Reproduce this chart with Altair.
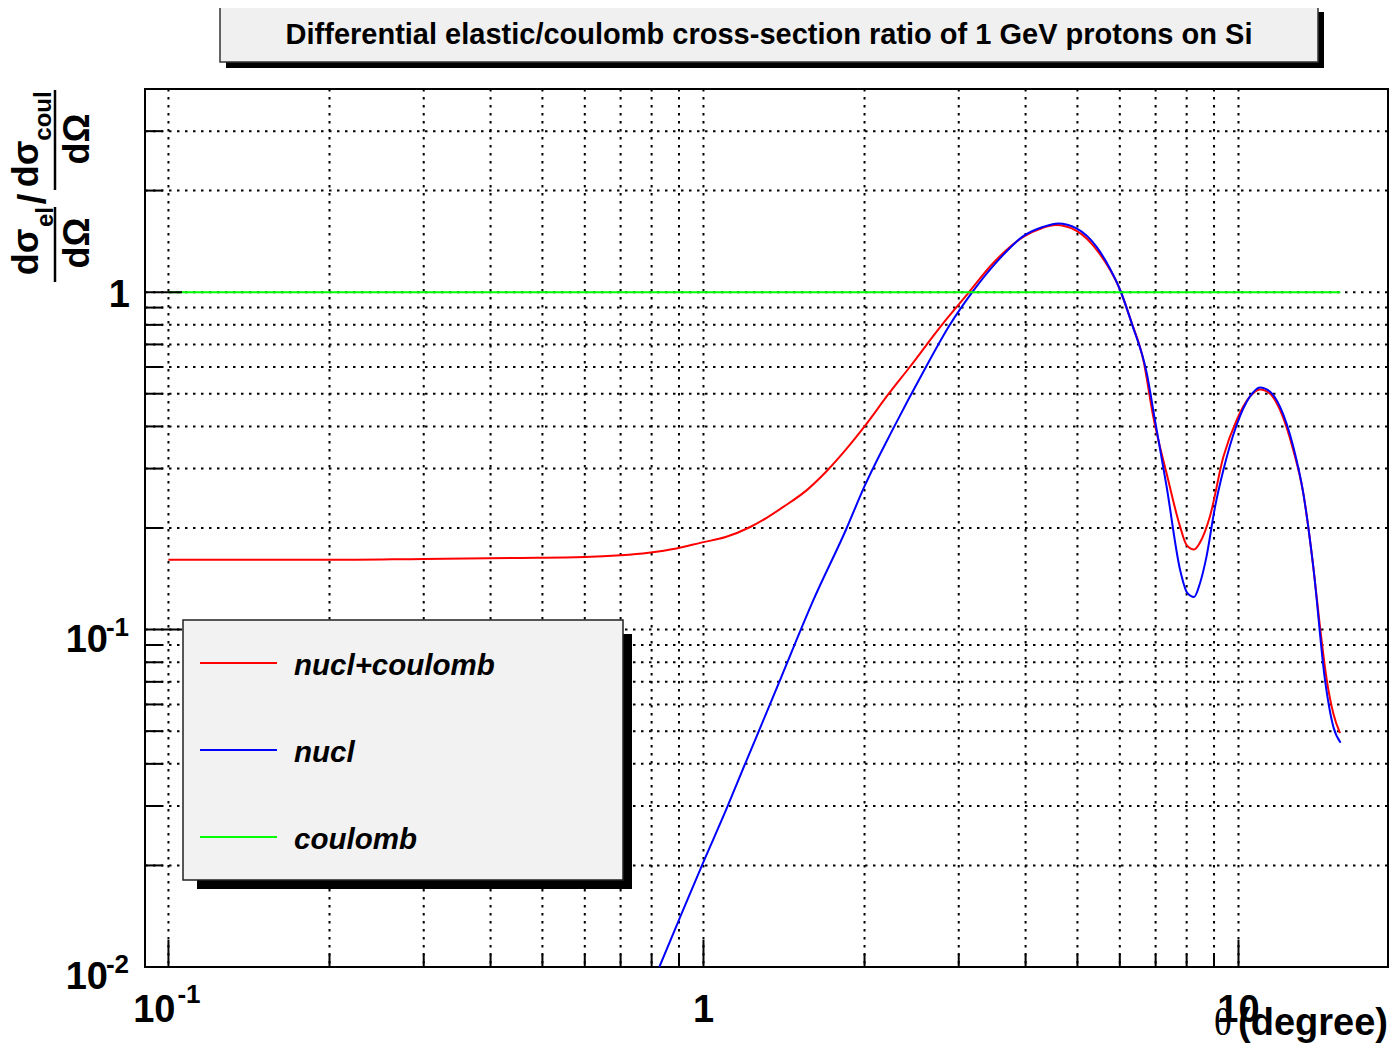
import altair as alt
import pandas as pd

# ---------------- data ----------------
TITLE = "Differential elastic/coulomb cross-section ratio of 1 GeV protons on Si"
series_names = ["nucl+coulomb", "nucl", "coulomb"]
series_colors = ["#ff0000", "#0000ff", "#00ff00"]

theta_nc = [0.1, 0.15, 0.2, 0.3, 0.45, 0.6, 0.7, 0.79, 0.89, 0.99, 1.1, 1.22, 1.31, 1.41, 1.56,
            1.7, 1.85, 2.0, 2.22, 2.43, 2.79, 3.12, 3.48, 3.96, 4.3, 4.55, 4.98,
            5.5, 6.0, 6.3, 6.64, 6.93, 7.34, 7.78, 8.0, 8.26, 8.47, 8.84, 9.37, 9.92, 10.5, 10.97,
            11.46, 11.96, 12.66, 13.22, 13.8, 14.2, 14.62, 15.04, 15.48]
ratio_nc = [0.161, 0.161, 0.161, 0.162, 0.163, 0.164, 0.166, 0.169, 0.174, 0.181, 0.188, 0.201, 0.214, 0.231, 0.259,
            0.295, 0.343, 0.4, 0.5, 0.6, 0.8, 0.99, 1.22, 1.458, 1.55, 1.58, 1.52,
            1.3, 1.02, 0.82, 0.629, 0.427, 0.29, 0.2016, 0.178, 0.1728, 0.181, 0.216, 0.325, 0.4175, 0.49, 0.515,
            0.5, 0.447, 0.34, 0.253, 0.153, 0.102, 0.0709, 0.0564, 0.0493]

theta_n = [0.827, 0.9, 1.0, 1.1, 1.2, 1.3, 1.4, 1.5, 1.6, 1.85, 2.0, 2.27, 2.59, 2.88, 3.18,
           3.55, 3.96, 4.32, 4.6, 4.98, 5.43, 5.75, 6.0,
           6.33, 6.74, 6.98, 7.34, 7.78, 8.02, 8.26, 8.47, 8.71, 9.04, 9.37, 9.92, 10.5, 10.97, 11.46,
           11.96, 12.66, 13.22, 13.8, 14.51, 15.04, 15.52]
ratio_n = [0.01, 0.0138, 0.0205, 0.029, 0.0405, 0.0548, 0.0728, 0.095, 0.121, 0.199, 0.266, 0.398, 0.59, 0.795, 1.0,
           1.24, 1.465, 1.562, 1.598, 1.545, 1.362, 1.175, 1.02,
           0.8, 0.574, 0.4175, 0.265, 0.15, 0.1285, 0.125, 0.137, 0.164, 0.231, 0.297, 0.404, 0.49, 0.522, 0.507,
           0.457, 0.348, 0.253, 0.153, 0.0709, 0.0515, 0.0462]

theta_c = [0.1, 15.5]
ratio_c = [1.0, 1.0]

x_major = [0.1, 1.0, 10.0]
x_major_base = ["10", "1", "10"]
x_major_exp = ["-1", "", ""]
x_minor = [0.2, 0.3, 0.4, 0.5, 0.6, 0.7, 0.8, 0.9, 2, 3, 4, 5, 6, 7, 8, 9]

y_major = [0.01, 0.1, 1.0]
y_major_base = ["10", "10", "1"]
y_major_exp = ["-2", "-1", ""]
y_minor = [0.02, 0.03, 0.04, 0.05, 0.06, 0.07, 0.08, 0.09, 0.2, 0.3, 0.4, 0.5, 0.6, 0.7, 0.8, 0.9, 2, 3]

# ---------------- layout / style ----------------
W, H = 1243, 878
SANS = "Liberation Sans"
SERIF = "Liberation Serif"
xs = alt.Scale(type="log", domain=[0.0904, 19.03], nice=False)
ys = alt.Scale(type="log", domain=[0.01, 4.0], nice=False)
DASH = [2.5, 5.5]


def curve(xv, yv, color):
    df = pd.DataFrame({"theta": xv, "ratio": yv})
    return alt.Chart(df).mark_line(color=color, strokeWidth=2, clip=True, interpolate="monotone").encode(
        x=alt.X("theta:Q", scale=xs, axis=None),
        y=alt.Y("ratio:Q", scale=ys, axis=None),
    )


def text(t, x, y, size, angle=0, align="center", baseline="alphabetic", font=SANS,
         weight="bold", style="normal", color="black"):
    kw = dict(fontSize=size, align=align, baseline=baseline, font=font,
              fontWeight=weight, fontStyle=style, color=color)
    if angle:
        kw["angle"] = angle
    return alt.Chart(pd.DataFrame({"t": [t]})).mark_text(**kw).encode(
        x=alt.value(x), y=alt.value(y), text="t:N")


def box(x1, x2, y1, y2, fill, stroke=None, sw=0):
    kw = dict(fill=fill)
    if stroke:
        kw.update(stroke=stroke, strokeWidth=sw)
    return alt.Chart(pd.DataFrame({"a": [0]})).mark_rect(**kw).encode(
        x=alt.value(x1), x2=alt.value(x2), y=alt.value(y1), y2=alt.value(y2))


def vrule(x, y1, y2, sw=2.5):
    return alt.Chart(pd.DataFrame({"a": [0]})).mark_rule(color="black", strokeWidth=sw).encode(
        x=alt.value(x), y=alt.value(y1), y2=alt.value(y2))


layers = []

# dotted grid at every major and minor tick
layers.append(alt.Chart(pd.DataFrame({"v": x_major + x_minor})).mark_rule(
    color="black", strokeWidth=2, strokeDash=DASH).encode(
    x=alt.X("v:Q", scale=xs, axis=None), y=alt.value(0), y2=alt.value(H)))
layers.append(alt.Chart(pd.DataFrame({"v": y_major + y_minor})).mark_rule(
    color="black", strokeWidth=2, strokeDash=DASH).encode(
    y=alt.Y("v:Q", scale=ys, axis=None), x=alt.value(0), x2=alt.value(W)))

# curves
layers.append(curve(theta_nc, ratio_nc, series_colors[0]))
layers.append(curve(theta_n, ratio_n, series_colors[1]))
layers.append(curve(theta_c, ratio_c, series_colors[2]))


# ticks (inward)
def xticks(vals, length):
    return alt.Chart(pd.DataFrame({"v": vals})).mark_rule(color="black", strokeWidth=2).encode(
        x=alt.X("v:Q", scale=xs, axis=None), y=alt.value(H), y2=alt.value(H - length))


def yticks(vals, length):
    return alt.Chart(pd.DataFrame({"v": vals})).mark_rule(color="black", strokeWidth=2).encode(
        y=alt.Y("v:Q", scale=ys, axis=None), x=alt.value(0), x2=alt.value(length))


layers += [xticks(x_major, 27), xticks(x_minor, 13), yticks(y_major, 37), yticks(y_minor, 18)]

# x tick labels
xl = pd.DataFrame({"v": x_major, "b": x_major_base, "e": x_major_exp})
xl_plain = xl[xl["e"] == ""]
xl_exp = xl[xl["e"] != ""]
LBL = 38
layers.append(alt.Chart(xl_plain).mark_text(fontSize=LBL, font=SANS, fontWeight="bold", align="center",
                                             baseline="alphabetic").encode(
    x=alt.X("v:Q", scale=xs, axis=None), y=alt.value(H + 55), text="b:N"))
layers.append(alt.Chart(xl_exp).mark_text(fontSize=LBL, font=SANS, fontWeight="bold", align="right",
                                           baseline="alphabetic", dx=7).encode(
    x=alt.X("v:Q", scale=xs, axis=None), y=alt.value(H + 55), text="b:N"))
layers.append(alt.Chart(xl_exp).mark_text(fontSize=26, font=SANS, fontWeight="bold", align="left",
                                           baseline="alphabetic", dx=9).encode(
    x=alt.X("v:Q", scale=xs, axis=None), y=alt.value(H + 36), text="e:N"))

# y tick labels
yl = pd.DataFrame({"v": y_major, "b": y_major_base, "e": y_major_exp})
yl_plain = yl[yl["e"] == ""]
yl_exp = yl[yl["e"] != ""]
layers.append(alt.Chart(yl_plain).mark_text(fontSize=LBL, font=SANS, fontWeight="bold", align="right",
                                             baseline="alphabetic", dy=15).encode(
    y=alt.Y("v:Q", scale=ys, axis=None), x=alt.value(-15), text="b:N"))
layers.append(alt.Chart(yl_exp).mark_text(fontSize=LBL, font=SANS, fontWeight="bold", align="right",
                                           baseline="alphabetic", dy=22).encode(
    y=alt.Y("v:Q", scale=ys, axis=None), x=alt.value(-37), text="b:N"))
layers.append(alt.Chart(yl_exp).mark_text(fontSize=26, font=SANS, fontWeight="bold", align="right",
                                           baseline="alphabetic", dy=6).encode(
    y=alt.Y("v:Q", scale=ys, axis=None), x=alt.value(-16), text="e:N"))

# x axis title (right-aligned at the frame)
layers.append(text("(degree)", W, H + 68, 38, align="right"))
layers.append(text("θ", W - 156, H + 68, 38, align="right", font=SERIF, weight="normal"))

# y axis title: (dσ_el/dΩ) / (dσ_coul/dΩ), rotated
layers.append(vrule(-90, 118, 193))
layers.append(text("dσ", -118, 163, 36, angle=270, baseline="middle"))
layers.append(text("el", -99, 128, 24, angle=270, baseline="middle"))
layers.append(text("dΩ", -67, 154, 36, angle=270, baseline="middle"))
layers.append(text("/", -111, 110, 38, angle=270, baseline="middle"))
layers.append(vrule(-90, 1, 101))
layers.append(text("dσ", -118, 75, 36, angle=270, baseline="middle"))
layers.append(text("coul", -101, 27, 24, angle=270, baseline="middle"))
layers.append(text("dΩ", -67, 50, 36, angle=270, baseline="middle"))

# title box
layers.append(box(81, 1179, -77, -21, "black"))
layers.append(box(75, 1173, -83, -27, "#f0f0f0", "#333333", 1.5))
layers.append(text(TITLE, 624, -45, 29))

# legend box
layers.append(box(52, 487, 545, 800, "black"))
layers.append(box(38, 478, 531, 791, "#f2f2f2", "#222222", 1.5))
leg_y = [574, 661, 748]
for name, col, ly in zip(series_names, series_colors, leg_y):
    layers.append(alt.Chart(pd.DataFrame({"a": [0]})).mark_rule(color=col, strokeWidth=2).encode(
        x=alt.value(55), x2=alt.value(132), y=alt.value(ly)))
    layers.append(text(name, 149, ly + 12, 29.5, align="left", style="italic"))

chart = alt.layer(*layers).properties(
    width=W, height=H,
    autosize=alt.AutoSizeParams(type="none"),
    padding={"left": 137, "top": 81, "right": 3, "bottom": 78},
    background="white",
).configure_view(stroke="black", strokeWidth=2)

chart.save("out.html", embed_options={"renderer": "svg", "actions": False})
